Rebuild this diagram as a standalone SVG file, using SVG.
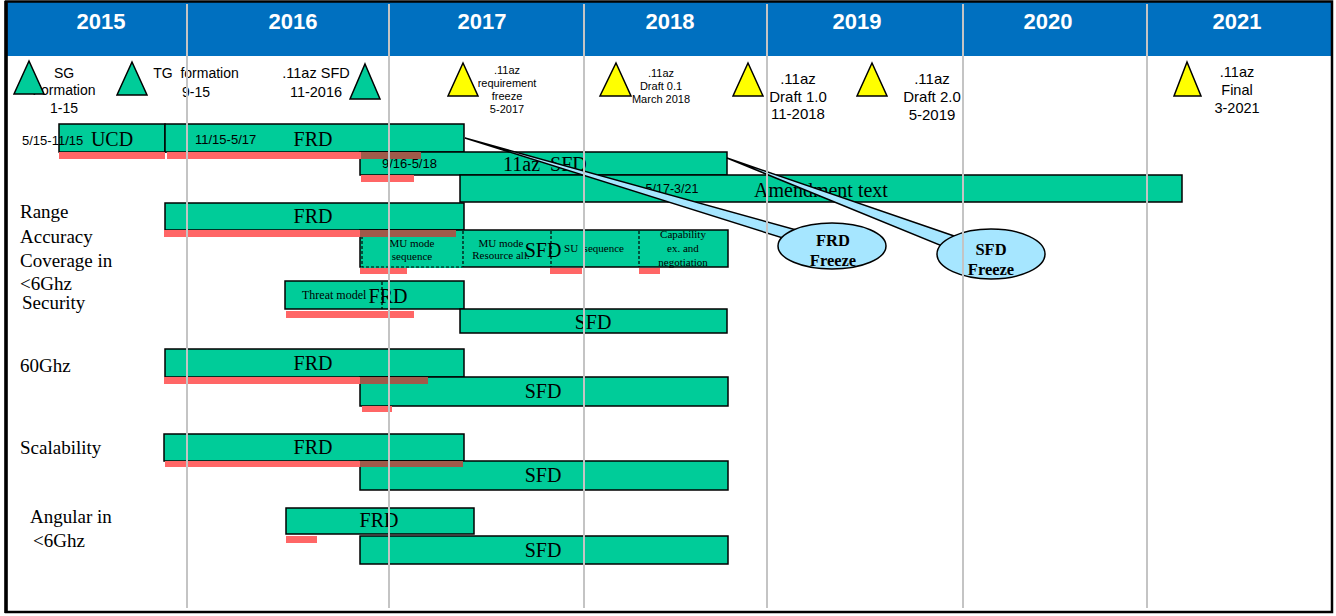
<svg xmlns="http://www.w3.org/2000/svg" width="1336" height="616" viewBox="0 0 1336 616">
<style>
.bar{fill:#00CC99;stroke:#000;stroke-width:1.5}
.red{fill:#FF6666}
.brn{fill:#A05A4A}
.gt{fill:#00CC99;stroke:#000;stroke-width:1.5}
.yt{fill:#FFFF00;stroke:#000;stroke-width:1.5}
.yr{font-family:"Liberation Sans",Arial,sans-serif;font-weight:bold;font-size:22px;fill:#fff;text-anchor:middle}
.a{font-family:"Liberation Sans",Arial,sans-serif;fill:#000}
.m{text-anchor:middle}
.t{font-family:"Liberation Serif","Times New Roman",serif;fill:#000}
.big{font-size:20px}
.lbl{font-size:19px}
.sm{font-size:11px}
.dash{stroke:#000;stroke-width:1.2;stroke-dasharray:3 2;fill:none}
.grid{stroke:#C4C4C4;stroke-width:2}
.call{fill:#A6E6FF;stroke:#000;stroke-width:1.5}
.ct{font-family:"Liberation Serif","Times New Roman",serif;font-weight:bold;font-size:16.5px;text-anchor:middle}
</style>
<rect x="0" y="0" width="1336" height="616" fill="#fff"/>
<g id="header">
<rect x="7" y="2" width="1325" height="54" fill="#0070C0"/>
<text class="yr" x="101" y="29">2015</text>
<text class="yr" x="293" y="29">2016</text>
<text class="yr" x="482" y="29">2017</text>
<text class="yr" x="670" y="29">2018</text>
<text class="yr" x="857" y="29">2019</text>
<text class="yr" x="1048" y="29">2020</text>
<text class="yr" x="1237" y="29">2021</text>
</g>
<g id="milestone-sg">
<text class="a m" font-size="14" x="64" y="78">SG</text>
<text class="a m" font-size="14" x="64" y="95">Formation</text>
<text class="a m" font-size="14" x="64" y="113">1-15</text>
<polygon class="gt" points="29,61 44,94 14,94"/>
</g>
<g id="milestone-tg">
<polygon class="gt" points="132,62 147,95 117,95"/>
<text class="a m" font-size="14" x="196" y="78" xml:space="preserve">TG  formation</text>
<text class="a m" font-size="14" x="196" y="97">9-15</text>
</g>
<g id="milestone-sfd">
<text class="a m" font-size="14.5" x="316" y="78">.11az SFD</text>
<text class="a m" font-size="14.5" x="316" y="97">11-2016</text>
<polygon class="gt" points="365,64 380,99 350,99"/>
</g>
<g id="milestone-req">
<polygon class="yt" points="463,63 478,96 448,96"/>
<text class="a m sm" x="507" y="74">.11az</text>
<text class="a m sm" x="507" y="87">requirement</text>
<text class="a m sm" x="507" y="100">freeze</text>
<text class="a m sm" x="507" y="113">5-2017</text>
</g>
<g id="milestone-d01">
<polygon class="yt" points="616,63 631,96 600,96"/>
<text class="a m sm" x="661" y="77">.11az</text>
<text class="a m sm" x="661" y="90">Draft 0.1</text>
<text class="a m sm" x="661" y="103">March 2018</text>
</g>
<g id="milestone-d10">
<polygon class="yt" points="748,63 763,96 733,96"/>
<text class="a m" font-size="15" x="798" y="84">.11az</text>
<text class="a m" font-size="15" x="798" y="102">Draft 1.0</text>
<text class="a m" font-size="15" x="798" y="119">11-2018</text>
</g>
<g id="milestone-d20">
<polygon class="yt" points="872,63 887,96 857,96"/>
<text class="a m" font-size="15" x="932" y="84">.11az</text>
<text class="a m" font-size="15" x="932" y="102">Draft 2.0</text>
<text class="a m" font-size="15" x="932" y="120">5-2019</text>
</g>
<g id="milestone-final">
<polygon class="yt" points="1187,62 1201,96 1174,96"/>
<text class="a m" font-size="14.5" x="1237" y="77">.11az</text>
<text class="a m" font-size="14.5" x="1237" y="95">Final</text>
<text class="a m" font-size="14.5" x="1237" y="113">3-2021</text>
</g>
<g id="row-general">
<rect class="bar" x="59" y="124" width="106" height="28"/>
<rect class="bar" x="165" y="124" width="299" height="28"/>
<rect class="bar" x="360" y="152" width="367" height="23"/>
<rect class="bar" x="460" y="175" width="722" height="27"/>
<rect class="red" x="59" y="152" width="106" height="7"/>
<rect class="red" x="167" y="152" width="254" height="7"/>
<rect class="brn" x="361" y="152" width="60" height="7"/>
<rect class="red" x="361" y="175" width="53" height="7"/>
<text class="a" font-size="13" x="22" y="145">5/15-11/15</text>
<text class="t big m" x="112" y="146">UCD</text>
<text class="a" font-size="13" x="195" y="144">11/15-5/17</text>
<text class="t big m" x="313" y="146">FRD</text>
<text class="a" font-size="13" x="382" y="168">9/16-5/18</text>
<text class="t big" x="503" y="171" xml:space="preserve">11az  SFD</text>
<text class="a m" font-size="12.5" x="672" y="193">5/17-3/21</text>
<text class="t big m" x="821" y="197">Amendment text</text>
</g>
<g id="row-range">
<text class="t lbl" x="20" y="218">Range</text>
<text class="t lbl" x="20" y="243">Accuracy</text>
<text class="t lbl" x="20" y="267">Coverage in</text>
<text class="t lbl" x="20" y="290">&lt;6Ghz</text>
<rect class="bar" x="165" y="203" width="299" height="27"/>
<text class="t big m" x="313" y="223">FRD</text>
<rect class="bar" x="360" y="230" width="368" height="37"/>
<line x1="361" y1="267" x2="463" y2="267" stroke="#00CC99" stroke-width="2"/>
<path class="dash" d="M362,231 V267 H463 M463,231 V267 M551,231 V267 M639,231 V267"/>
<rect class="red" x="164" y="230" width="196" height="7"/>
<rect class="brn" x="360" y="230" width="96" height="7"/>
<rect class="red" x="360" y="268" width="47" height="6"/>
<rect class="red" x="550" y="268" width="32" height="6"/>
<rect class="red" x="639" y="268" width="21" height="6"/>
<text class="t sm m" x="412" y="247">MU mode</text>
<text class="t sm m" x="412" y="260">sequence</text>
<text class="t sm m" x="501" y="247">MU mode</text>
<text class="t sm m" x="501" y="259">Resource all.</text>
<text class="t big m" x="543" y="257">SFD</text>
<text class="t sm m" x="594" y="252" xml:space="preserve">SU  sequence</text>
<text class="t m" font-size="11" x="683" y="238">Capability</text>
<text class="t m" font-size="11" x="683" y="252">ex. and</text>
<text class="t m" font-size="11" x="683" y="266">negotiation</text>
</g>
<g id="row-security">
<text class="t lbl" x="22" y="309">Security</text>
<rect class="bar" x="285" y="281" width="179" height="28"/>
<line class="dash" x1="382" y1="282" x2="382" y2="309"/>
<text class="t" font-size="12" x="302" y="299">Threat model</text>
<text class="t big m" x="388" y="303">FRD</text>
<rect class="red" x="286" y="311" width="128" height="7"/>
<rect class="bar" x="460" y="309" width="267" height="24"/>
<text class="t big m" x="593" y="329">SFD</text>
</g>
<g id="row-60ghz">
<text class="t lbl" x="20" y="372">60Ghz</text>
<rect class="bar" x="165" y="349" width="299" height="28"/>
<text class="t big m" x="313" y="370">FRD</text>
<rect class="bar" x="360" y="377" width="368" height="29"/>
<text class="t big m" x="543" y="398">SFD</text>
<rect class="red" x="164" y="377" width="196" height="7"/>
<rect class="brn" x="360" y="377" width="68" height="7"/>
<rect class="red" x="362" y="406" width="30" height="6"/>
</g>
<g id="row-scalability">
<text class="t lbl" x="20" y="454">Scalability</text>
<rect class="bar" x="164" y="434" width="300" height="27"/>
<text class="t big m" x="313" y="454">FRD</text>
<rect class="bar" x="360" y="461" width="368" height="29"/>
<text class="t big m" x="543" y="482">SFD</text>
<rect class="red" x="165" y="461" width="195" height="6"/>
<rect class="brn" x="360" y="461" width="103" height="6"/>
</g>
<g id="row-angular">
<text class="t lbl" x="30" y="523">Angular in</text>
<text class="t lbl" x="33" y="547">&lt;6Ghz</text>
<rect class="bar" x="286" y="508" width="188" height="26"/>
<text class="t big m" x="379" y="527">FRD</text>
<rect class="red" x="286" y="536" width="31" height="7"/>
<rect class="bar" x="360" y="536" width="368" height="28"/>
<text class="t big m" x="543" y="557">SFD</text>
</g>
<g id="connectors">
<polygon class="call" points="465,138 800,231 786,239"/>
<polygon class="call" points="727,158 957,237 942,246"/>
</g>
<g id="callout-frd">
<ellipse class="call" cx="832" cy="246" rx="54" ry="23"/>
<text class="ct" x="833" y="246">FRD</text>
<text class="ct" x="833" y="266">Freeze</text>
</g>
<g id="callout-sfd">
<ellipse class="call" cx="991" cy="254" rx="54" ry="25"/>
<text class="ct" x="991" y="255">SFD</text>
<text class="ct" x="991" y="275">Freeze</text>
</g>
<g id="grid">
<line class="grid" x1="187" y1="4" x2="187" y2="608"/>
<line class="grid" x1="389" y1="4" x2="389" y2="608"/>
<line class="grid" x1="584" y1="4" x2="584" y2="608"/>
<line class="grid" x1="767" y1="4" x2="767" y2="608"/>
<line class="grid" x1="963" y1="4" x2="963" y2="608"/>
<line class="grid" x1="1147" y1="4" x2="1147" y2="608"/>
</g>
<g id="frame">
<rect x="6" y="1.5" width="1326" height="610.5" fill="none" stroke="#000" stroke-width="2.5"/>
<line x1="6" y1="1" x2="6" y2="613" stroke="#000" stroke-width="3.5"/>
</g>
</svg>
